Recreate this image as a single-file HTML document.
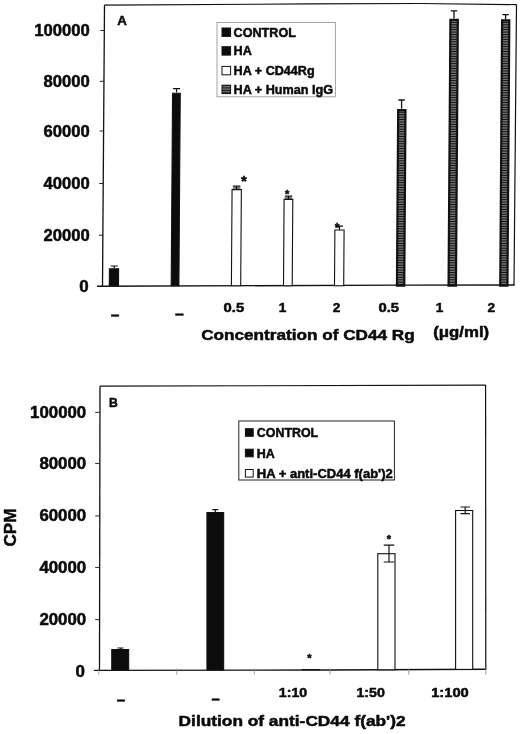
<!DOCTYPE html>
<html lang="en"><head><meta charset="utf-8"><title>CD44 Rg and anti-CD44 f(ab')2 inhibition of HA response</title>
<style>
html,body{margin:0;padding:0;background:#fff;}
body{width:520px;height:734px;overflow:hidden;}
svg{display:block;}
text{font-family:"Liberation Sans",Arial,Helvetica,sans-serif;font-weight:bold;fill:#0a0a0a;stroke:#0a0a0a;stroke-width:0.5px;stroke-linejoin:round;}
</style></head><body>
<svg width="520" height="734" viewBox="0 0 520 734">
<defs>
<pattern id="hs" width="12" height="17" patternUnits="userSpaceOnUse"><rect width="12" height="17" fill="#141414"/><rect y="1.05" width="12" height="0.6" fill="#b0b0b0"/><rect y="2.75" width="12" height="0.6" fill="#b0b0b0"/><rect y="4.45" width="12" height="0.6" fill="#b0b0b0"/><rect y="6.15" width="12" height="0.6" fill="#b0b0b0"/><rect y="7.85" width="12" height="0.6" fill="#b0b0b0"/><rect y="9.55" width="12" height="0.6" fill="#b0b0b0"/><rect y="11.25" width="12" height="0.6" fill="#b0b0b0"/><rect y="12.95" width="12" height="0.6" fill="#b0b0b0"/><rect y="14.65" width="12" height="0.6" fill="#b0b0b0"/><rect y="16.35" width="12" height="0.6" fill="#b0b0b0"/></pattern>
</defs>
<rect width="520" height="734" fill="#fff"/>

<g id="panelA">
<path d="M104.5 5.2L102.5 286.3" stroke="#111" stroke-width="1.3" fill="none"/>
<path d="M104.2 5.2L310 3.9L420 3.5L516.5 4.6" stroke="#111" stroke-width="1.2" fill="none"/>
<path d="M516.5 4.6L514 285.2" stroke="#111" stroke-width="1.2" fill="none"/>
<path d="M97 286.3L400 285.1L514.5 285" stroke="#111" stroke-width="1.4" fill="none"/>
<path d="M100.3 30.5H104.6" stroke="#222" stroke-width="1"/>
<text x="89.8" y="36.3" font-size="16" text-anchor="end" textLength="55.5" lengthAdjust="spacingAndGlyphs">100000</text>
<path d="M99.9 81.3H104.2" stroke="#222" stroke-width="1"/>
<text x="89.8" y="87.1" font-size="16" text-anchor="end" textLength="46.2" lengthAdjust="spacingAndGlyphs">80000</text>
<path d="M99.6 131H103.9" stroke="#222" stroke-width="1"/>
<text x="89.8" y="136.8" font-size="16" text-anchor="end" textLength="46.2" lengthAdjust="spacingAndGlyphs">60000</text>
<path d="M99.2 183.5H103.5" stroke="#222" stroke-width="1"/>
<text x="89.8" y="189.3" font-size="16" text-anchor="end" textLength="46.2" lengthAdjust="spacingAndGlyphs">40000</text>
<path d="M98.9 235.2H103.2" stroke="#222" stroke-width="1"/>
<text x="89.8" y="241.0" font-size="16" text-anchor="end" textLength="46.2" lengthAdjust="spacingAndGlyphs">20000</text>
<text x="88.6" y="292" font-size="16" text-anchor="end" textLength="9.4" lengthAdjust="spacingAndGlyphs">0</text>
<text x="117.3" y="25" font-size="12.5" text-anchor="start" textLength="9.6" lengthAdjust="spacingAndGlyphs">A</text>
<polygon points="109.30,285.7 109.42,268.7 118.62,268.7 118.50,285.7" fill="#0c0c0c" stroke="#111" stroke-width="1.1"/>
<path d="M114.2 268V266M110.7 266H117.7" stroke="#111" stroke-width="1.2" fill="none"/>
<polygon points="171.20,285.7 172.55,93.2 180.25,93.2 178.90,285.7" fill="#0c0c0c" stroke="#111" stroke-width="1.1"/>
<path d="M176.5699 92.5V88.6M173.0699 88.6H180.0699" stroke="#111" stroke-width="1.2" fill="none"/>
<polygon points="231.40,285.7 232.07,189.6 241.37,189.6 240.70,285.7" fill="#fff" stroke="#111" stroke-width="1.1"/>
<path d="M236.6 189.6V186.2M232.85 186.2H240.35" stroke="#111" stroke-width="1.2" fill="none"/>
<path d="M232.8 188H240.4" stroke="#111" stroke-width="1.1"/>
<polygon points="283.50,285.7 284.10,199.4 292.80,199.4 292.20,285.7" fill="#fff" stroke="#111" stroke-width="1.1"/>
<path d="M288.5 199.4V196.2M284.75 196.2H292.25" stroke="#111" stroke-width="1.2" fill="none"/>
<path d="M284.8 198H292" stroke="#111" stroke-width="1.1"/>
<polygon points="334.50,285.7 334.89,230 344.09,230 343.70,285.7" fill="#fff" stroke="#111" stroke-width="1.1"/>
<path d="M339.5 230V226.2M336.0 226.2H343.0" stroke="#111" stroke-width="1.2" fill="none"/>
<polygon points="396.95,285.7 398.18,110.05 405.48,110.05 404.25,285.7" fill="url(#hs)" stroke="#111" stroke-width="2.2"/>
<path d="M401.6 108.8V100M398.40000000000003 100H404.8" stroke="#111" stroke-width="1.3" fill="none"/>
<polygon points="448.55,285.7 450.41,19.85 457.81,19.85 455.95,285.7" fill="url(#hs)" stroke="#111" stroke-width="2.2"/>
<path d="M454 18.6V10.8M450.8 10.8H457.2" stroke="#111" stroke-width="1.3" fill="none"/>
<polygon points="500.25,285.7 502.11,20.45 509.31,20.45 507.45,285.7" fill="url(#hs)" stroke="#111" stroke-width="2.2"/>
<path d="M505.6 19.2V14.6M502.40000000000003 14.6H508.8" stroke="#111" stroke-width="1.3" fill="none"/>
<text x="243.8" y="186" font-size="15" text-anchor="middle">*</text>
<text x="287.2" y="197.6" font-size="11" text-anchor="middle">*</text>
<text x="337.2" y="231.5" font-size="12" text-anchor="middle">*</text>
<text x="233.9" y="311.9" font-size="12.6" text-anchor="middle" textLength="20.6" lengthAdjust="spacingAndGlyphs">0.5</text>
<text x="282.6" y="311.9" font-size="12.6" text-anchor="middle" textLength="7.6" lengthAdjust="spacingAndGlyphs">1</text>
<text x="336.5" y="311.9" font-size="12.6" text-anchor="middle" textLength="7.6" lengthAdjust="spacingAndGlyphs">2</text>
<text x="388.7" y="311.9" font-size="12.6" text-anchor="middle" textLength="20.6" lengthAdjust="spacingAndGlyphs">0.5</text>
<text x="439.6" y="311.9" font-size="12.6" text-anchor="middle" textLength="7.6" lengthAdjust="spacingAndGlyphs">1</text>
<text x="491.3" y="311.9" font-size="12.6" text-anchor="middle" textLength="7.6" lengthAdjust="spacingAndGlyphs">2</text>
<text x="115" y="320.3" font-size="15" text-anchor="middle" textLength="8.6" lengthAdjust="spacingAndGlyphs">–</text>
<text x="179.4" y="318.8" font-size="15" text-anchor="middle" textLength="8.8" lengthAdjust="spacingAndGlyphs">–</text>
<text x="201.2" y="340" font-size="14.8" text-anchor="start" textLength="213.5" lengthAdjust="spacingAndGlyphs">Concentration of CD44 Rg</text>
<text x="433.2" y="337.2" font-size="14.8" text-anchor="start" textLength="56" lengthAdjust="spacingAndGlyphs">(μg/ml)</text>
<rect x="217" y="22.5" width="118.4" height="74.3" fill="#fff" stroke="#9a9a9a" stroke-width="0.9"/>
<rect x="222" y="28.000000000000004" width="8.6" height="8.4" fill="#0c0c0c" stroke="#111" stroke-width="1"/>
<text x="233.6" y="36.7" font-size="12.5" text-anchor="start" textLength="62.3" lengthAdjust="spacingAndGlyphs">CONTROL</text>
<rect x="222" y="46.699999999999996" width="8.6" height="8.4" fill="#0c0c0c" stroke="#111" stroke-width="1"/>
<text x="233.6" y="55.4" font-size="12.5" text-anchor="start" textLength="18.2" lengthAdjust="spacingAndGlyphs">HA</text>
<rect x="222" y="66.39999999999999" width="8.6" height="8.4" fill="#fff" stroke="#111" stroke-width="1"/>
<text x="233.6" y="75.1" font-size="12.5" text-anchor="start" textLength="81" lengthAdjust="spacingAndGlyphs">HA + CD44Rg</text>
<rect x="222" y="85.2" width="8.6" height="8.4" fill="url(#hs)" stroke="#111" stroke-width="1"/>
<text x="233.6" y="93.9" font-size="12.5" text-anchor="start" textLength="99.5" lengthAdjust="spacingAndGlyphs">HA + Human IgG</text>
</g>
<g id="panelB">
<path d="M100 386.3L99.5 670.3" stroke="#111" stroke-width="1.3" fill="none"/>
<path d="M99.8 386.2L485.7 385.1" stroke="#111" stroke-width="1.2" fill="none"/>
<path d="M485.6 385.1L485.8 669.5" stroke="#111" stroke-width="1.2" fill="none"/>
<path d="M93.8 670.4L330 670L486.2 669.2" stroke="#111" stroke-width="1.4" fill="none"/>
<path d="M95.2 412.4H99.5" stroke="#222" stroke-width="1"/>
<text x="86.2" y="417.8" font-size="16" text-anchor="end" textLength="56.1" lengthAdjust="spacingAndGlyphs">100000</text>
<path d="M95.2 463.4H99.5" stroke="#222" stroke-width="1"/>
<text x="86.2" y="468.8" font-size="16" text-anchor="end" textLength="46.8" lengthAdjust="spacingAndGlyphs">80000</text>
<path d="M95.2 515.9H99.5" stroke="#222" stroke-width="1"/>
<text x="86.2" y="521.3" font-size="16" text-anchor="end" textLength="46.8" lengthAdjust="spacingAndGlyphs">60000</text>
<path d="M95.2 567.4H99.5" stroke="#222" stroke-width="1"/>
<text x="86.2" y="572.8" font-size="16" text-anchor="end" textLength="46.8" lengthAdjust="spacingAndGlyphs">40000</text>
<path d="M95.2 619.6H99.5" stroke="#222" stroke-width="1"/>
<text x="86.2" y="625.0" font-size="16" text-anchor="end" textLength="46.8" lengthAdjust="spacingAndGlyphs">20000</text>
<text x="85" y="677" font-size="16" text-anchor="end" textLength="9.4" lengthAdjust="spacingAndGlyphs">0</text>
<path d="M98.8 668.6V674.6" stroke="#8a8a8a" stroke-width="0.8"/>
<path d="M176.8 668.6V674.6" stroke="#8a8a8a" stroke-width="0.8"/>
<path d="M254.3 668.6V674.6" stroke="#8a8a8a" stroke-width="0.8"/>
<path d="M330 668.6V674.6" stroke="#8a8a8a" stroke-width="0.8"/>
<path d="M408.7 668.6V674.6" stroke="#8a8a8a" stroke-width="0.8"/>
<path d="M485.8 668.6V674.6" stroke="#8a8a8a" stroke-width="0.8"/>
<text x="109" y="406.8" font-size="12.5" text-anchor="start" textLength="8.8" lengthAdjust="spacingAndGlyphs">B</text>
<text transform="translate(16.2,546.5) rotate(-90)" font-size="17" textLength="38" lengthAdjust="spacingAndGlyphs">CPM</text>
<rect x="111.75" y="649.55" width="16.899999999999977" height="20.450000000000045" fill="#0c0c0c" stroke="#111" stroke-width="1.1"/>
<path d="M120.5 649V648M117.5 648H123.5" stroke="#111" stroke-width="1.2" fill="none"/>
<rect x="206.95000000000002" y="512.55" width="16.69999999999996" height="157.45000000000005" fill="#0c0c0c" stroke="#111" stroke-width="1.1"/>
<path d="M215.3 512V509.6M212.3 509.6H218.3" stroke="#111" stroke-width="1.2" fill="none"/>
<rect x="377.8" y="553.7" width="17.19999999999999" height="116.09999999999991" fill="#fff" stroke="#111" stroke-width="1.1"/>
<path d="M389 562V545.2M383.75 545.2H394.25M383.75 562H394.25" stroke="#111" stroke-width="1.2" fill="none"/>
<rect x="455.59999999999997" y="510.5" width="17.100000000000023" height="158.89999999999998" fill="#fff" stroke="#111" stroke-width="1.1"/>
<path d="M465.2 513.6V507M460.5 507H469.9M460.5 513.6H469.9" stroke="#111" stroke-width="1.2" fill="none"/>
<text x="309.3" y="661.5" font-size="11" text-anchor="middle">*</text>
<text x="389" y="542.5" font-size="11" text-anchor="middle">*</text>
<path d="M301.8 669.6H320" stroke="#111" stroke-width="1.2"/>
<text x="293" y="697.4" font-size="12.8" text-anchor="middle" textLength="28.4" lengthAdjust="spacingAndGlyphs">1:10</text>
<text x="370.6" y="697.4" font-size="12.8" text-anchor="middle" textLength="28.4" lengthAdjust="spacingAndGlyphs">1:50</text>
<text x="450" y="697.0" font-size="12.8" text-anchor="middle" textLength="37.6" lengthAdjust="spacingAndGlyphs">1:100</text>
<text x="120.9" y="704.6" font-size="15" text-anchor="middle" textLength="8.4" lengthAdjust="spacingAndGlyphs">–</text>
<text x="215.6" y="704.2" font-size="15" text-anchor="middle" textLength="8.2" lengthAdjust="spacingAndGlyphs">–</text>
<text x="178.6" y="726.3" font-size="15.3" text-anchor="start" textLength="227" lengthAdjust="spacingAndGlyphs">Dilution of anti-CD44 f(ab')2</text>
<rect x="238.8" y="421" width="155.6" height="59" fill="#fff" stroke="#222" stroke-width="1"/>
<rect x="245.4" y="428.7" width="7.8" height="7.6" fill="#0c0c0c" stroke="#111" stroke-width="1"/>
<text x="256.8" y="437.0" font-size="12.6" text-anchor="start" textLength="61.4" lengthAdjust="spacingAndGlyphs">CONTROL</text>
<rect x="245.4" y="449.2" width="7.8" height="7.6" fill="#0c0c0c" stroke="#111" stroke-width="1"/>
<text x="256.8" y="457.5" font-size="12.6" text-anchor="start" textLength="18" lengthAdjust="spacingAndGlyphs">HA</text>
<rect x="245.4" y="469.5" width="7.8" height="7.6" fill="#fff" stroke="#111" stroke-width="1"/>
<text x="256.8" y="477.8" font-size="12.6" text-anchor="start" textLength="136" lengthAdjust="spacingAndGlyphs">HA + anti-CD44 f(ab')2</text>
</g>
</svg></body></html>
